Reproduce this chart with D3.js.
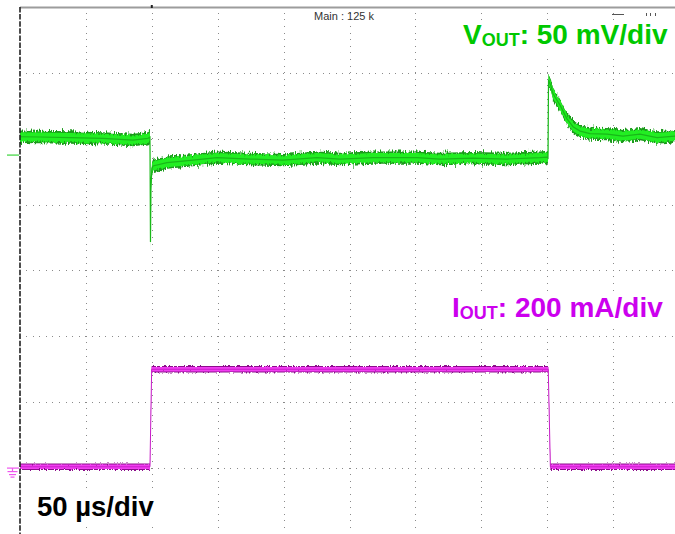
<!DOCTYPE html>
<html><head><meta charset="utf-8">
<script src="https://cdn.jsdelivr.net/npm/d3@7"></script>
<style>html,body{margin:0;padding:0;background:#fff;overflow:hidden}</style>
</head><body>
<svg id="c" width="675" height="534"></svg>
<script>
// ---- data (time in µs from left edge of screen) ----
const timeTicks = [50, 100, 150, 200, 250, 300, 350, 400, 450];
const divTicks = [1, 2, 3, 4, 5, 6, 7];
// VOUT deviation from its reference marker, mV
const voutT  = [0, 15.2, 37.9, 63, 85.7, 97.1, 98.6, 99.0, 99.4, 100.2, 100.9, 111.5, 123.7, 149.5, 174.5, 199.5, 225.3, 242.8, 267.8, 301.2, 318.7, 343.7, 369.5, 394.5, 399.8, 400.6, 401.0, 402.9, 404.4, 409.7, 415.0, 419.6, 425.0, 432.5, 445.4, 457.5, 470.4, 483.3, 497, 500];
const voutMV = [13.9, 13.7, 13.3, 12.7, 11.4, 12.7, 13.7, -66.0, -21.2, -9.9, -8.3, -5.7, -4.6, -1.9, -3.0, -3.8, -1.9, -3.0, -1.9, -1.9, -3.0, -2.3, -3.0, -1.9, -1.5, -2.3, 56.9, 52.3, 46.5, 37.9, 27.5, 21.5, 18.2, 16.3, 15.9, 14.4, 15.9, 13.3, 14.4, 14.4];
// IOUT, mA
const ioutT  = [0, 98.6, 99.9, 400.8, 402.4, 500];
const ioutMA = [4, 4, 300, 300, 4, 4];
const voutLabel = ["V", "OUT", ": 50 mV/div"];
const ioutLabel = ["I", "OUT", ": 200 mA/div"];
const timeLabel = "50 µs/div";
const topInfo = "Main : 125 k";

const svg = d3.select("#c");
const x  = d3.scaleLinear().domain([0, 500]).range([20, 679]);
const yDiv = d3.scaleLinear().domain([0, 8]).range([534, 6.8]);
const yV = d3.scaleLinear().domain([-287.5, 112.5]).range([534, 6.8]);
const yI = d3.scaleLinear().domain([-200, 1400]).range([534, 6.8]);

// ---- filters for noisy trace edges ----
const defs = svg.append("defs");
function noiseFilter(id, seed, scale, fx, fy) {
  const f = defs.append("filter").attr("id", id).attr("filterUnits", "userSpaceOnUse")
    .attr("x", 0).attr("y", 0).attr("width", 700).attr("height", 560);
  f.append("feTurbulence").attr("type", "fractalNoise").attr("baseFrequency", fx + " " + fy)
    .attr("numOctaves", 2).attr("seed", seed).attr("result", "t");
  const ct = f.append("feComponentTransfer").attr("in", "t").attr("result", "t2");
  ct.append("feFuncR").attr("type", "linear").attr("slope", 0).attr("intercept", 0.5);
  ct.append("feFuncA").attr("type", "linear").attr("slope", 0).attr("intercept", 1);
  f.append("feDisplacementMap").attr("in", "SourceGraphic").attr("in2", "t2")
    .attr("scale", scale).attr("xChannelSelector", "R").attr("yChannelSelector", "G");
}
noiseFilter("nG1", 3, 9, 1.1, 0.15);
noiseFilter("nG2", 11, 6, 1.0, 0.15);
noiseFilter("nM1", 5, 4, 1.0, 0.25);
noiseFilter("nM2", 8, 2.5, 1.0, 0.25);

// ---- grid ----
const g = svg.append("g").attr("stroke", "#8a8a8a").attr("stroke-width", 1)
  .attr("shape-rendering", "crispEdges");
const dot = (yDiv(0) - yDiv(1)) / 10;
g.selectAll("line.v").data(timeTicks).join("line").attr("class", "v")
  .attr("x1", d => Math.round(x(d)) + 0.5).attr("x2", d => Math.round(x(d)) + 0.5)
  .attr("y1", yDiv(8) + dot - 0.5).attr("y2", 534)
  .attr("stroke-dasharray", "1 " + (dot - 1));
g.selectAll("line.h").data(divTicks).join("line").attr("class", "h")
  .attr("y1", d => Math.round(yDiv(d)) + 0.5).attr("y2", d => Math.round(yDiv(d)) + 0.5)
  .attr("x1", x(0) + dot - 0.5).attr("x2", 679)
  .attr("stroke-dasharray", "1 " + (dot - 1));

// top border
svg.append("line").attr("x1", x(0)).attr("x2", 675).attr("y1", 7.5).attr("y2", 7.5)
  .attr("stroke", "#9c9c9c").attr("stroke-width", 2);
// trigger position marker
svg.append("rect").attr("x", x(100) - 1).attr("y", 5).attr("width", 2).attr("height", 3).attr("fill", "#222");

// top info text
svg.append("text").attr("x", 314).attr("y", 20).attr("font-family", "Liberation Sans, Arial, sans-serif")
  .attr("font-size", 11).attr("fill", "#333").text(topInfo);
// fragments of a status readout hidden behind the VOUT label
const frag = svg.append("g").attr("stroke", "#555").attr("stroke-width", 1).attr("shape-rendering", "crispEdges");
frag.append("line").attr("x1", 612).attr("x2", 624).attr("y1", 14.5).attr("y2", 14.5);
frag.append("line").attr("x1", 646.5).attr("x2", 646.5).attr("y1", 13).attr("y2", 16);
frag.append("line").attr("x1", 650.5).attr("x2", 650.5).attr("y1", 13).attr("y2", 16);
frag.append("line").attr("x1", 655.5).attr("x2", 655.5).attr("y1", 13).attr("y2", 16);

// ---- traces ----
const vData = voutT.map((t, i) => [t, voutMV[i]]);
const iData = ioutT.map((t, i) => [t, ioutMA[i]]);
function band(ys, hw) {
  return d3.area().x(d => x(d[0])).y0(d => ys(d[1]) - hw).y1(d => ys(d[1]) + hw);
}
const lineV = d3.line().x(d => x(d[0])).y(d => yV(d[1]));
const lineI = d3.line().x(d => x(d[0])).y(d => yI(d[1]));

// VOUT (green)
svg.append("path").attr("d", band(yV, 6.2)(vData)).attr("fill", "#1a9a1a").attr("filter", "url(#nG1)");
svg.append("path").attr("d", band(yV, 4.6)(vData)).attr("fill", "#22ee22").attr("filter", "url(#nG2)");
svg.append("path").attr("d", lineV(vData)).attr("fill", "none").attr("stroke", "#18b818").attr("stroke-width", 1.2);

// IOUT (magenta)
svg.append("path").attr("d", band(yI, 3.2)(iData)).attr("fill", "#8c108c").attr("filter", "url(#nM1)");
svg.append("path").attr("d", band(yI, 2.3)(iData)).attr("fill", "#f23cf2").attr("filter", "url(#nM2)");
svg.append("path").attr("d", lineI(iData)).attr("fill", "none").attr("stroke", "#c81ec8").attr("stroke-width", 1);

// left edge dashed line
svg.append("line").attr("x1", x(0)).attr("x2", x(0)).attr("y1", 7).attr("y2", 534)
  .attr("stroke", "#222").attr("stroke-width", 1.6).attr("stroke-dasharray", "5.5 1.6");

// channel reference markers
svg.append("line").attr("x1", 7).attr("x2", 19).attr("y1", yV(0)).attr("y2", yV(0))
  .attr("stroke", "#3ad43a").attr("stroke-width", 1.2);
const gnd = svg.append("g").attr("stroke", "#ee55ee").attr("stroke-width", 1.2);
const gy = yI(0);
gnd.append("line").attr("x1", 7).attr("x2", 19).attr("y1", gy).attr("y2", gy);
gnd.append("line").attr("x1", 12.5).attr("x2", 12.5).attr("y1", gy).attr("y2", gy + 3.5);
gnd.append("line").attr("x1", 7.5).attr("x2", 17.5).attr("y1", gy + 3.5).attr("y2", gy + 3.5);
gnd.append("line").attr("x1", 9).attr("x2", 16).attr("y1", gy + 6.5).attr("y2", gy + 6.5);
gnd.append("line").attr("x1", 10.5).attr("x2", 14.5).attr("y1", gy + 9).attr("y2", gy + 9);

// ---- labels ----
function subLabel(parts, tx, ty, color) {
  const grp = svg.append("g");
  const bg = grp.append("rect").attr("fill", "#fff");
  const t = grp.append("text").attr("x", tx).attr("y", ty)
    .attr("font-family", "Liberation Sans, Arial, sans-serif").attr("font-weight", "bold")
    .attr("font-size", 28).attr("fill", color);
  t.append("tspan").text(parts[0]);
  t.append("tspan").attr("font-size", 18).attr("dy", 2).text(parts[1]);
  t.append("tspan").attr("dy", -2).text(parts[2]);
  const b = t.node().getBBox();
  bg.attr("x", b.x - 3).attr("y", b.y + 3).attr("width", b.width + 6).attr("height", b.height);
}
subLabel(voutLabel, 463, 44, "#00c800");
subLabel(ioutLabel, 452, 317, "#cc00ee");

const tl = svg.append("g");
const tbg = tl.append("rect").attr("fill", "#fff");
const tt = tl.append("text").attr("x", 37).attr("y", 516)
  .attr("font-family", "Liberation Sans, Arial, sans-serif").attr("font-weight", "bold")
  .attr("font-size", 27.5).attr("fill", "#000").text(timeLabel);
const tb = tt.node().getBBox();
tbg.attr("x", tb.x - 3).attr("y", tb.y).attr("width", tb.width + 6).attr("height", tb.height + 2);
</script>
</body></html>
